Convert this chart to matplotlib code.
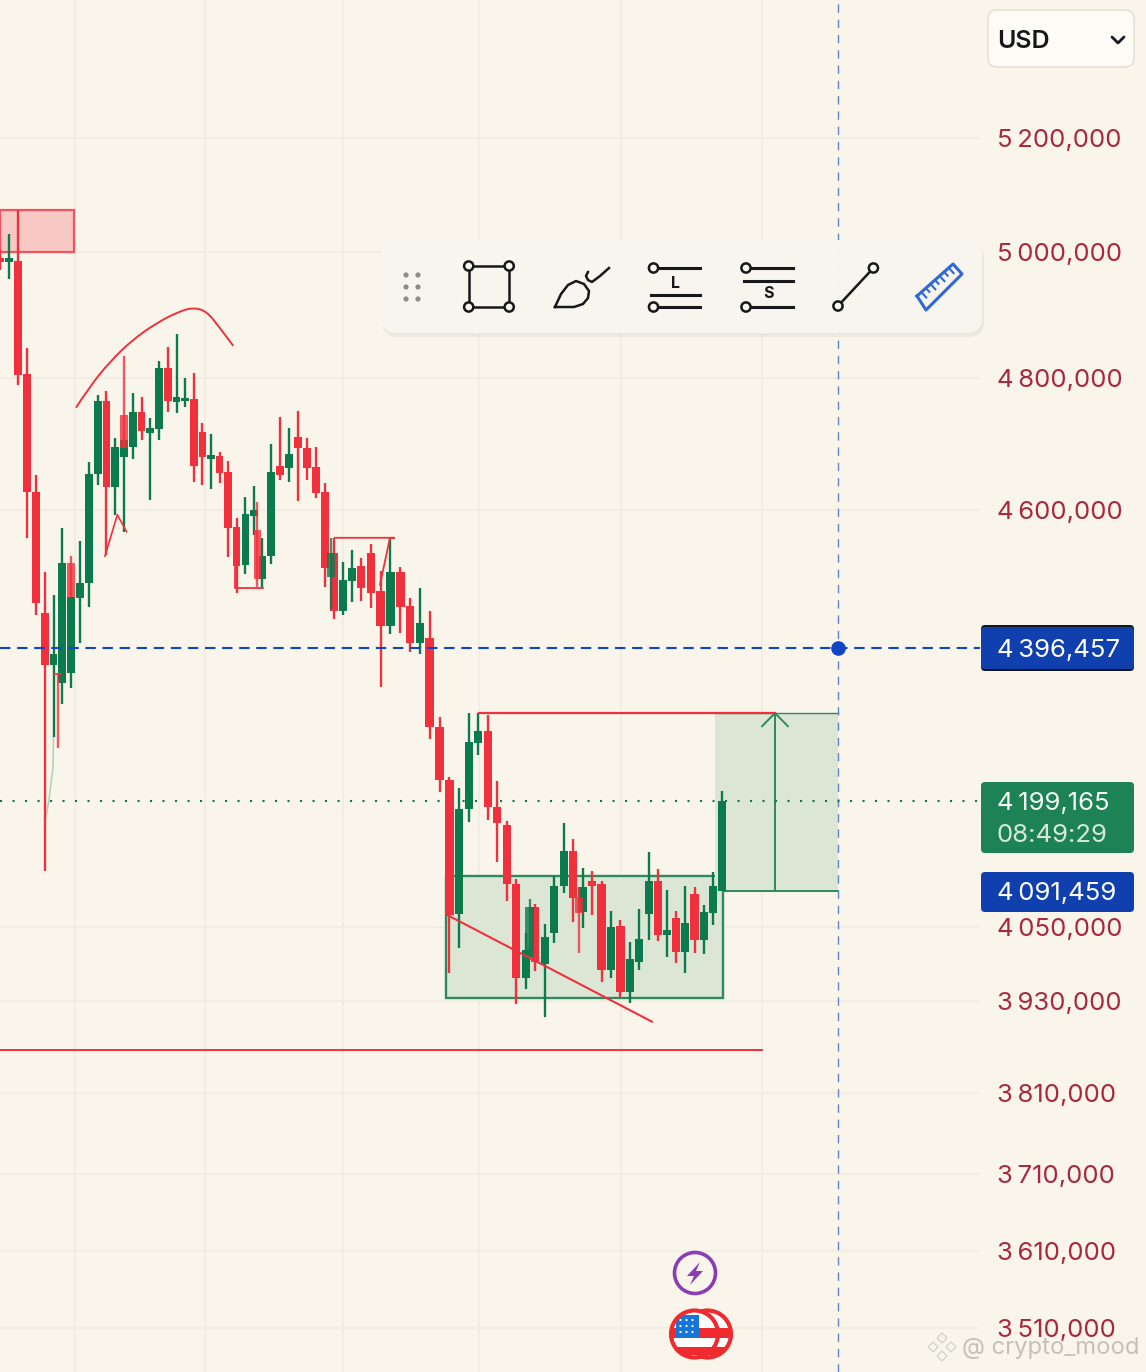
#!/usr/bin/env python3
# Candlestick chart with price axis, drawn objects and the mobile toolbar on top
import numpy as np
import matplotlib
matplotlib.use('Agg')
import matplotlib.pyplot as plt
from matplotlib.patches import FancyBboxPatch, Rectangle, Circle, Polygon, PathPatch
from matplotlib.path import Path

plt.rcParams['font.family'] = ['Inter', 'DejaVu Sans']

# Prices are in thousands
# Price axis, the spacing of the labels is uneven in the reference
axis_prices = [3453, 3510, 3610, 3710, 3810, 3930, 4050, 4091.459, 4199.165, 4396.457,
               4600, 4800, 5000, 5200, 5442]
axis_pixels = [1372, 1328, 1251, 1174, 1093, 1001, 927, 891, 801, 648, 510, 378, 252, 138, 0]
tick_prices = [5200, 5000, 4800, 4600, 4050, 3930, 3810, 3710, 3610, 3510]
tick_labels = ['5\u2009200,000', '5\u2009000,000', '4\u2009800,000', '4\u2009600,000', '4\u2009050,000',
               '3\u2009930,000', '3\u2009810,000', '3\u2009710,000', '3\u2009610,000', '3\u2009510,000']

# Bar number to screen, bars are not evenly spaced in the reference
bar_anchor = [-10, 0, 10, 20, 30, 40, 50, 60, 70, 78, 150]
bar_pixels = [-79.1, 9.3, 97.7, 185.3, 271, 361, 459.3, 554.3, 648.7, 722, 1384.4]
grid_bars = [7.43, 22.26, 38.0, 52.07, 67.1, 82.35]

bars = list(range(-1, 79))
opens = [4990, 4984, 4986, 4806, 4627, 4448, 4375, 4351, 4364, 4470, 4492, 4654, 4765, 4635, 4680, 4695,
         4748, 4717, 4723, 4816, 4764, 4765, 4768, 4718, 4677, 4682, 4658, 4575, 4519, 4591, 4498, 4532,
         4667, 4664, 4711, 4694, 4665, 4627, 4537, 4451, 4495, 4517, 4537, 4481, 4429, 4509, 4458, 4404,
         4411, 4295, 4226, 4065, 4190, 4274, 4289, 4192, 4170, 4100, 3967, 4073, 3990, 4040, 4097, 4139,
         4067, 4103, 4100, 3980, 4051, 3945, 3993, 4065, 4104, 4037, 4060, 4009, 4088, 4029, 4066, 4091]
highs = [5003, 5032, 5074, 4848, 4653, 4509, 4475, 4573, 4472, 4554, 4673, 4774, 4780, 4709, 4706, 4777,
         4771, 4739, 4827, 4849, 4870, 4800, 4808, 4732, 4715, 4688, 4674, 4588, 4620, 4636, 4559, 4700,
         4741, 4724, 4750, 4709, 4695, 4641, 4559, 4523, 4541, 4529, 4550, 4510, 4559, 4516, 4470, 4485,
         4451, 4307, 4230, 4216, 4313, 4313, 4310, 4225, 4175, 4106, 4040, 4076, 4054, 4110, 4173, 4154,
         4119, 4115, 4104, 4068, 4058, 4026, 4071, 4138, 4118, 4093, 4068, 4097, 4096, 4075, 4114, 4212]
lows = [4971, 4957, 4789, 4559, 4445, 4115, 4282, 4324, 4345, 4404, 4457, 4638, 4534, 4593, 4568, 4677,
        4706, 4615, 4706, 4748, 4747, 4756, 4642, 4638, 4632, 4641, 4531, 4478, 4506, 4563, 4486, 4520,
        4645, 4642, 4614, 4645, 4618, 4486, 4439, 4445, 4464, 4466, 4455, 4346, 4417, 4419, 4391, 4389,
        4279, 4211, 3975, 4016, 4174, 4258, 4176, 4126, 4080, 3926, 3949, 3979, 3909, 4024, 4089, 4056,
        4048, 4064, 3961, 3967, 3935, 3927, 3980, 4029, 4027, 4001, 3992, 3975, 4008, 4007, 4052, 4091]
closes = [4984, 4990, 4805, 4627, 4463, 4375, 4389, 4522, 4472, 4492, 4654, 4765, 4635, 4695, 4706, 4748,
          4720, 4724, 4816, 4765, 4771, 4770, 4667, 4680, 4683, 4656, 4573, 4517, 4594, 4600, 4532, 4658,
          4653, 4685, 4694, 4664, 4626, 4514, 4451, 4497, 4514, 4485, 4478, 4429, 4509, 4457, 4404, 4433,
          4295, 4226, 4064, 4190, 4275, 4289, 4192, 4173, 4100, 3967, 4013, 3993, 4034, 4097, 4139, 4083,
          4096, 4097, 3980, 4050, 3945, 3998, 4031, 4103, 4037, 4045, 4009, 4055, 4029, 4067, 4098, 4199]

# Doubled up candles left in the reference screenshot
ghost_bars = [5.55, 7, 13, 28.4, 36.7, 57.4, 62.6]
ghost_opens = [4364, 4522, 4744, 4570, 4501, 4001, 4085]
ghost_highs = [4364, 4532, 4835, 4612, 4559, 4082, 4096]
ghost_lows = [4267, 4472, 4694, 4486, 4454, 4001, 4008]
ghost_closes = [4362, 4472, 4694, 4498, 4537, 4073, 4066]

# Hand drawn objects: bar number and price
curve_bars = [7.54, 9.0, 11.4, 14.0, 16.8, 19.2, 20.9, 22.5, 24.0, 25.6]
curve_prices = [4755, 4785, 4826, 4861, 4888, 4905, 4912, 4906, 4880, 4851]
vee_bars = [10.83, 12.24, 13.3]
vee_prices = [4532, 4593, 4568]
base_bars = [25.8, 25.8, 29.06]
base_prices = [4516, 4485, 4485]
cap_bars = [37.1, 43.36, 42.95, 41.93]
cap_prices = [4559, 4559, 4559, 4490]
trend_bars = [48.75, 70.36]
trend_prices = [4064, 3903]
tail_bars = [5, 4.95, 4.47, 4.03]
tail_prices = [4282, 4243, 4199, 4173]

last_level = 4396.457
live_level = 4199.165
entry_level = 4091.459
target_level = 4312.6
support_level = 3866
supply_zone = (-1.02, 7.3, 5000, 5074)
demand_zone = (48.65, 78.1, 3935, 4109.4)
cursor_bar = 90.6
target_start = 77.24
target_mid = 83.76
support_end = 82.35

BG = '#FAF5EA'
RED = '#F0303C'
GREEN = '#0B7A4C'
BLUE = '#1145C4'
AXIS_RED = '#A8293F'


def bar_to_px(v):
    return np.interp(v, bar_anchor, bar_pixels)


def px_to_bar(v):
    return np.interp(v, bar_pixels, bar_anchor)


price_asc = axis_prices
px_asc = [1372 - p for p in axis_pixels]


def price_to_px(v):
    return np.interp(v, price_asc, px_asc)


def px_to_price(v):
    return np.interp(v, px_asc, price_asc)


def candles(ax, xs, o, h, l, c, zo, alpha=1.0):
    xs, o, h, l, c = map(np.asarray, (xs, o, h, l, c))
    cols = np.where(c >= o, GREEN, RED)
    ax.vlines(xs, l, h, colors=cols, linewidth=1.7, zorder=zo, alpha=alpha)
    top = np.maximum(o, c)
    bot = np.minimum(o, c)
    ax.bar(xs, top - bot, bottom=bot, width=0.88, color=cols, linewidth=0, zorder=zo + 0.1, alpha=alpha)


def smooth_path(xs, ys):
    # quadratic pieces through the midpoints, the read points are the controls
    verts = [(xs[0], ys[0])]
    codes = [Path.MOVETO]
    for i in range(1, len(xs) - 1):
        verts += [(xs[i], ys[i]), ((xs[i] + xs[i + 1]) / 2, (ys[i] + ys[i + 1]) / 2)]
        codes += [Path.CURVE3, Path.CURVE3]
    verts.append((xs[-1], ys[-1]))
    codes.append(Path.LINETO)
    return Path(verts, codes)


fig = plt.figure(figsize=(11.46, 13.72), dpi=100, facecolor=BG)
ax = fig.add_axes([0, 0, 980 / 1146, 1], facecolor=BG)
ax.set_xscale('function', functions=(bar_to_px, px_to_bar))
ax.set_yscale('function', functions=(price_to_px, px_to_price))
ax.set_xlim(px_to_bar(0), px_to_bar(980))
ax.set_ylim(3453, 5442)
for s in ax.spines.values():
    s.set_visible(False)

LAB = 18.5
ax.set_xticks(grid_bars)
ax.set_xticklabels([])
ax.set_xticks([], minor=True)
ax.yaxis.tick_right()
ax.set_yticks(tick_prices)
ax.set_yticklabels(tick_labels)
ax.set_yticks([], minor=True)
ax.tick_params(axis='x', length=0)
ax.tick_params(axis='y', length=0, pad=12.2, labelsize=LAB, labelcolor=AXIS_RED)
ax.grid(True, color='#F1ECE1', linewidth=1.2, zorder=0)
ax.set_axisbelow(True)

# zones behind the candles
ax.add_patch(Rectangle((supply_zone[0], supply_zone[2]), supply_zone[1] - supply_zone[0],
                       supply_zone[3] - supply_zone[2], facecolor='#F8C9C4', edgecolor='#F4525C',
                       linewidth=1.6, zorder=2))
ax.add_patch(Rectangle((demand_zone[0], demand_zone[2]), demand_zone[1] - demand_zone[0],
                       demand_zone[3] - demand_zone[2], facecolor='#DBE6D5', edgecolor='#2C8A5C',
                       linewidth=1.7, zorder=2))
ax.fill_between([target_start, cursor_bar], entry_level, target_level, color='#DBE6D5', linewidth=0, zorder=2)
ax.plot([demand_zone[1], cursor_bar], [entry_level, entry_level], color='#2C8A5C', lw=1.4, zorder=3)
ax.plot([target_start, cursor_bar], [target_level, target_level], color='#2C8A5C', lw=1.0, zorder=3)
ax.plot([target_mid, target_mid], [entry_level, target_level], color='#2C8A5C', lw=1.4, zorder=3)
ax.plot([target_mid - 1.4, target_mid, target_mid + 1.4], [target_level - 17, target_level, target_level - 17],
        color='#2C8A5C', lw=1.4, zorder=3)

candles(ax, bars, opens, highs, lows, closes, 5)
candles(ax, ghost_bars, ghost_opens, ghost_highs, ghost_lows, ghost_closes, 6, alpha=0.8)

# price lines and drawings
ax.plot(px_to_bar([0, 980]), [last_level, last_level], color=BLUE, lw=1.5, ls=(0, (5, 3.2)), zorder=8)
ax.plot(px_to_bar([0, 980]), [live_level, live_level], color=GREEN, lw=1.5, ls=(0, (1, 5)), zorder=4)
ax.plot([cursor_bar, cursor_bar], [3453, 5442], color='#5F83CC', lw=1.0, ls=(0, (6, 5)), zorder=3)
ax.plot([cursor_bar], [last_level], 'o', color=BLUE, ms=9.5, zorder=9)

ax.add_patch(PathPatch(smooth_path(curve_bars, curve_prices), fill=False, edgecolor=RED, lw=1.4, zorder=7))
ax.plot(vee_bars, vee_prices, color=RED, lw=1.2, zorder=7)
ax.plot(base_bars, base_prices, color=RED, lw=1.3, zorder=7)
ax.plot(cap_bars, cap_prices, color=RED, lw=1.3, zorder=7)
ax.plot(trend_bars, trend_prices, color=RED, lw=1.5, zorder=7)
ax.plot(tail_bars, tail_prices, color='#A9D2B8', lw=1.1, zorder=4)
ax.plot([52.07, target_mid], [target_level, target_level], color=RED, lw=1.6, zorder=7)
ax.plot([px_to_bar(0), support_end], [support_level, support_level], color=RED, lw=1.4, zorder=7)

# everything below sits on top in screen pixels
ov = fig.add_axes([0, 0, 1, 1])
ov.set_xlim(0, 1146)
ov.set_ylim(1372, 0)
ov.axis('off')
ov.patch.set_alpha(0)


def round_box(x0, y0, x1, y1, r, **kw):
    p = FancyBboxPatch((x0 + r, y0 + r), x1 - x0 - 2 * r, y1 - y0 - 2 * r,
                       boxstyle='round,pad=%f,rounding_size=%f' % (r, r), **kw)
    ov.add_patch(p)
    return p


# currency select
round_box(988, 10, 1134, 67, 9, facecolor='#FDFBF6', edgecolor='#E5E1D8', linewidth=1.2)
ov.text(997, 39, 'USD', fontsize=18, color='#15171C', va='center_baseline', ha='left', fontweight='semibold')
ov.plot([1112, 1118, 1124], [37, 43, 37], color='#15171C', lw=2, solid_capstyle='round')

# toolbar
round_box(382, 243, 984, 337, 16, facecolor='#E6E3DA', edgecolor='none', alpha=0.7)
round_box(381, 240, 982, 333, 16, facecolor='#FAF7F0', edgecolor='none', alpha=0.93)
for dx in (406, 418):
    for dy in (275, 287, 299):
        ov.add_patch(Circle((dx, dy), 2.6, facecolor='#8C8C88', edgecolor='none'))

INK = '#17181C'


def knob(x, y, color=INK):
    ov.add_patch(Circle((x, y), 4.6, facecolor='#FAF7F0', edgecolor=color, linewidth=1.8, zorder=5))


ov.add_patch(Rectangle((468.7, 266), 40.5, 41, fill=False, edgecolor=INK, linewidth=1.8))
for kx, ky in [(468.7, 266), (509.2, 266), (468.7, 307), (509.2, 307)]:
    knob(kx, ky)

# brush
brush_x = [555, 561, 568, 576, 584, 589, 588, 583, 574, 555]
brush_y = [307, 294, 285, 281, 284, 291, 298, 304, 307, 307]
ov.plot(brush_x, brush_y, color=INK, lw=1.8)
ov.plot([588, 586, 588, 592, 600, 609], [272, 276, 280, 282, 276, 268], color=INK, lw=1.8)

# long and short
ov.plot([653, 700], [268, 268], color=INK, lw=2.2)
ov.plot([651, 700], [295, 295], color=INK, lw=2.2)
ov.plot([653, 700], [307, 307], color=INK, lw=2.2)
knob(653.5, 268)
knob(653.5, 307)
ov.text(676, 283, 'L', fontsize=11.5, color=INK, ha='center', va='center', fontweight='bold')
ov.plot([746, 793], [268, 268], color=INK, lw=2.2)
ov.plot([744, 793], [281, 281], color=INK, lw=2.2)
ov.plot([746, 793], [307, 307], color=INK, lw=2.2)
knob(746, 268)
knob(746, 307)
ov.text(768, 294, 'S', fontsize=11.5, color=INK, ha='center', va='center', fontweight='bold')

# line
ov.plot([838, 873.4], [306, 268], color=INK, lw=1.8)
knob(838, 306)
knob(873.4, 268)

# ruler
RUL = '#2F68D8'
ruler_x = [917, 953, 962, 926, 917]
ruler_y = [296, 264, 274, 310, 296]
ov.plot(ruler_x, ruler_y, color=RUL, lw=2.2, solid_joinstyle='round')
for t in np.linspace(0.12, 0.88, 7):
    bx = 917 + 36 * t
    by = 296 - 32 * t
    ln = 7 if round((t - 0.12) / (0.76 / 6)) % 2 == 0 else 5
    ov.plot([bx, bx + ln * 0.7], [by, by + ln * 0.75], color=RUL, lw=1.5)

# price flags
round_box(981, 625, 1134, 671, 4, facecolor='#111722', edgecolor='none')
round_box(981, 627, 1134, 669, 4, facecolor='#0F40AE', edgecolor='none')
ov.text(997, 648, '4\u2009396,457', color='white', fontsize=LAB, va='center_baseline', ha='left')
round_box(981, 782, 1134, 853, 4, facecolor='#1E8354', edgecolor='none')
ov.text(997, 801, '4\u2009199,165', color='#F4F7F2', fontsize=LAB, va='center_baseline', ha='left')
ov.text(997, 833, '08:49:29', color='#D5E8DB', fontsize=LAB, va='center_baseline', ha='left')
round_box(981, 872, 1134, 912, 4, facecolor='#0F40AE', edgecolor='none')
ov.text(997, 891, '4\u2009091,459', color='white', fontsize=LAB, va='center_baseline', ha='left')

# lightning badge
ov.add_patch(Circle((695, 1273), 20.5, facecolor=BG, edgecolor='#8A3DB4', linewidth=2.6))
ov.add_patch(Polygon([[700, 1262], [687, 1276], [694, 1276], [690, 1285], [703, 1271], [696, 1271]],
                     closed=True, facecolor='#8A3DB4', edgecolor='none'))

# flag coins, right one first so the left one covers it
FLAG = '#F02B30'
for n, cx in enumerate((707.5, 694.5)):
    zo = 5 + n
    coin = Circle((cx, 1334), 24, facecolor='white', edgecolor='none', zorder=zo)
    ov.add_patch(coin)
    for y0, y1 in [(1328, 1338), (1347, 1355)]:
        st = Rectangle((cx - 26, y0), 52, y1 - y0, facecolor=FLAG, edgecolor='none', zorder=zo + 0.1)
        ov.add_patch(st)
        st.set_clip_path(coin)
    can = Rectangle((cx - 19, 1315), 23, 23, facecolor='#1476DB', edgecolor='none', zorder=zo + 0.2)
    ov.add_patch(can)
    can.set_clip_path(coin)
    for sx in (cx - 14, cx - 8, cx - 2):
        for sy in (1320, 1326, 1332):
            ov.add_patch(Circle((sx, sy), 1.1, facecolor='white', edgecolor='none', zorder=zo + 0.3))
    ov.add_patch(Circle((cx, 1334), 23.5, fill=False, edgecolor=FLAG, linewidth=3, zorder=zo + 0.4))

# watermark
ov.text(962, 1348, '@ crypto_mood', color='#BDBBB5', fontsize=17.1, va='center', ha='left', alpha=0.9)
for mx, my in [(942, 1338), (933, 1347), (951, 1347), (942, 1356)]:
    ov.add_patch(Polygon([[mx, my - 5], [mx + 5, my], [mx, my + 5], [mx - 5, my]], closed=True,
                         facecolor='#F7F5EF', edgecolor='#CFCDC7', linewidth=0.8))

fig.savefig('out.png', dpi=100, facecolor=BG)
